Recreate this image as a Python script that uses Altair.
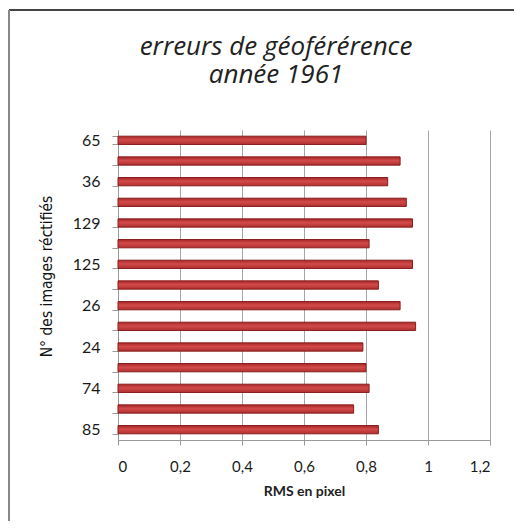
import altair as alt
import pandas as pd

# data (top to bottom)
labels = ["65", "", "36", "", "129", "", "125", "", "26", "", "24", "", "74", "", "85"]
rms = [0.80, 0.91, 0.87, 0.93, 0.95, 0.81, 0.95, 0.84, 0.91, 0.96, 0.79, 0.80, 0.81, 0.76, 0.84]
x_ticks = [0, 0.2, 0.4, 0.6, 0.8, 1.0, 1.2]

keys = [f"{i+1:02d}" for i in range(len(rms))]
df = pd.DataFrame({"key": keys, "rms": rms})

label_arr = "[" + ",".join("'" + l + "'" for l in labels) + "]"

bar_fill = alt.Gradient(
    gradient="linear",
    x1=0, x2=0, y1=0, y2=1,
    stops=[
        alt.GradientStop(offset=0, color="#A82828"),
        alt.GradientStop(offset=0.45, color="#D24A4A"),
        alt.GradientStop(offset=1, color="#B03030"),
    ],
)

bars = alt.Chart(df).mark_bar(fill=bar_fill, stroke="#8A1C1C", strokeWidth=1).encode(
    x=alt.X(
        "rms:Q",
        scale=alt.Scale(domain=[0, 1.2], nice=False),
        axis=alt.Axis(
            values=x_ticks,
            title="RMS en pixel",
            labelExpr="replace(format(datum.value, '.1~f'), '.', ',')",
            grid=True,
            gridColor="#A6A6A6",
            gridWidth=1,
            domainColor="#999999",
            tickColor="#999999",
            tickSize=5,
            labelPadding=14,
            labelFont="Lato",
            labelFontSize=15,
            labelColor="#1A1A1A",
            titleFont="Lato",
            titleFontSize=14,
            titleFontWeight="bold",
            titleColor="#222222",
            titlePadding=10,
        ),
    ),
    y=alt.Y(
        "key:N",
        sort=keys,
        scale=alt.Scale(paddingInner=0.6, paddingOuter=0.3),
        axis=alt.Axis(
            title="N° des images réctifiés",
            labelExpr=label_arr + "[toNumber(datum.value)-1]",
            tickBand="extent",
            tickSize=6,
            tickColor="#999999",
            domainColor="#999999",
            labelPadding=12,
            labelFont="Lato",
            labelFontSize=16,
            labelColor="#1A1A1A",
            titleFont="DejaVu Sans Condensed, Lato",
            titleFontSize=15.5,
            titleFontWeight="normal",
            titleColor="#111111",
            titlePadding=18,
            titleY=146,
        ),
    ),
)

frame_top = alt.Chart(df).mark_rule(color="#444444", strokeWidth=2).encode(
    x=alt.value(-109), x2=alt.value(440), y=alt.value(-120)
)
frame_left = alt.Chart(df).mark_rule(color="#888888", strokeWidth=2).encode(
    x=alt.value(-109), y=alt.value(-120), y2=alt.value(440)
)

chart = alt.layer(frame_top, frame_left, bars).properties(
    width=372,
    height=310,
    autosize=alt.AutoSizeParams(type="none"),
    padding={"left": 110, "top": 122, "right": 24, "bottom": 81},
    title=alt.TitleParams(
        text=["erreurs de géoférérence", "année 1961"],
        font="Open Sans",
        fontStyle="italic",
        fontWeight="normal",
        fontSize=26,
        lineHeight=28,
        anchor="middle",
        dx=-28,
        offset=-79,
        color="#222222",
    ),
).configure_view(stroke=None)

chart.save("out.html", embed_options={"renderer": "svg", "actions": False})
